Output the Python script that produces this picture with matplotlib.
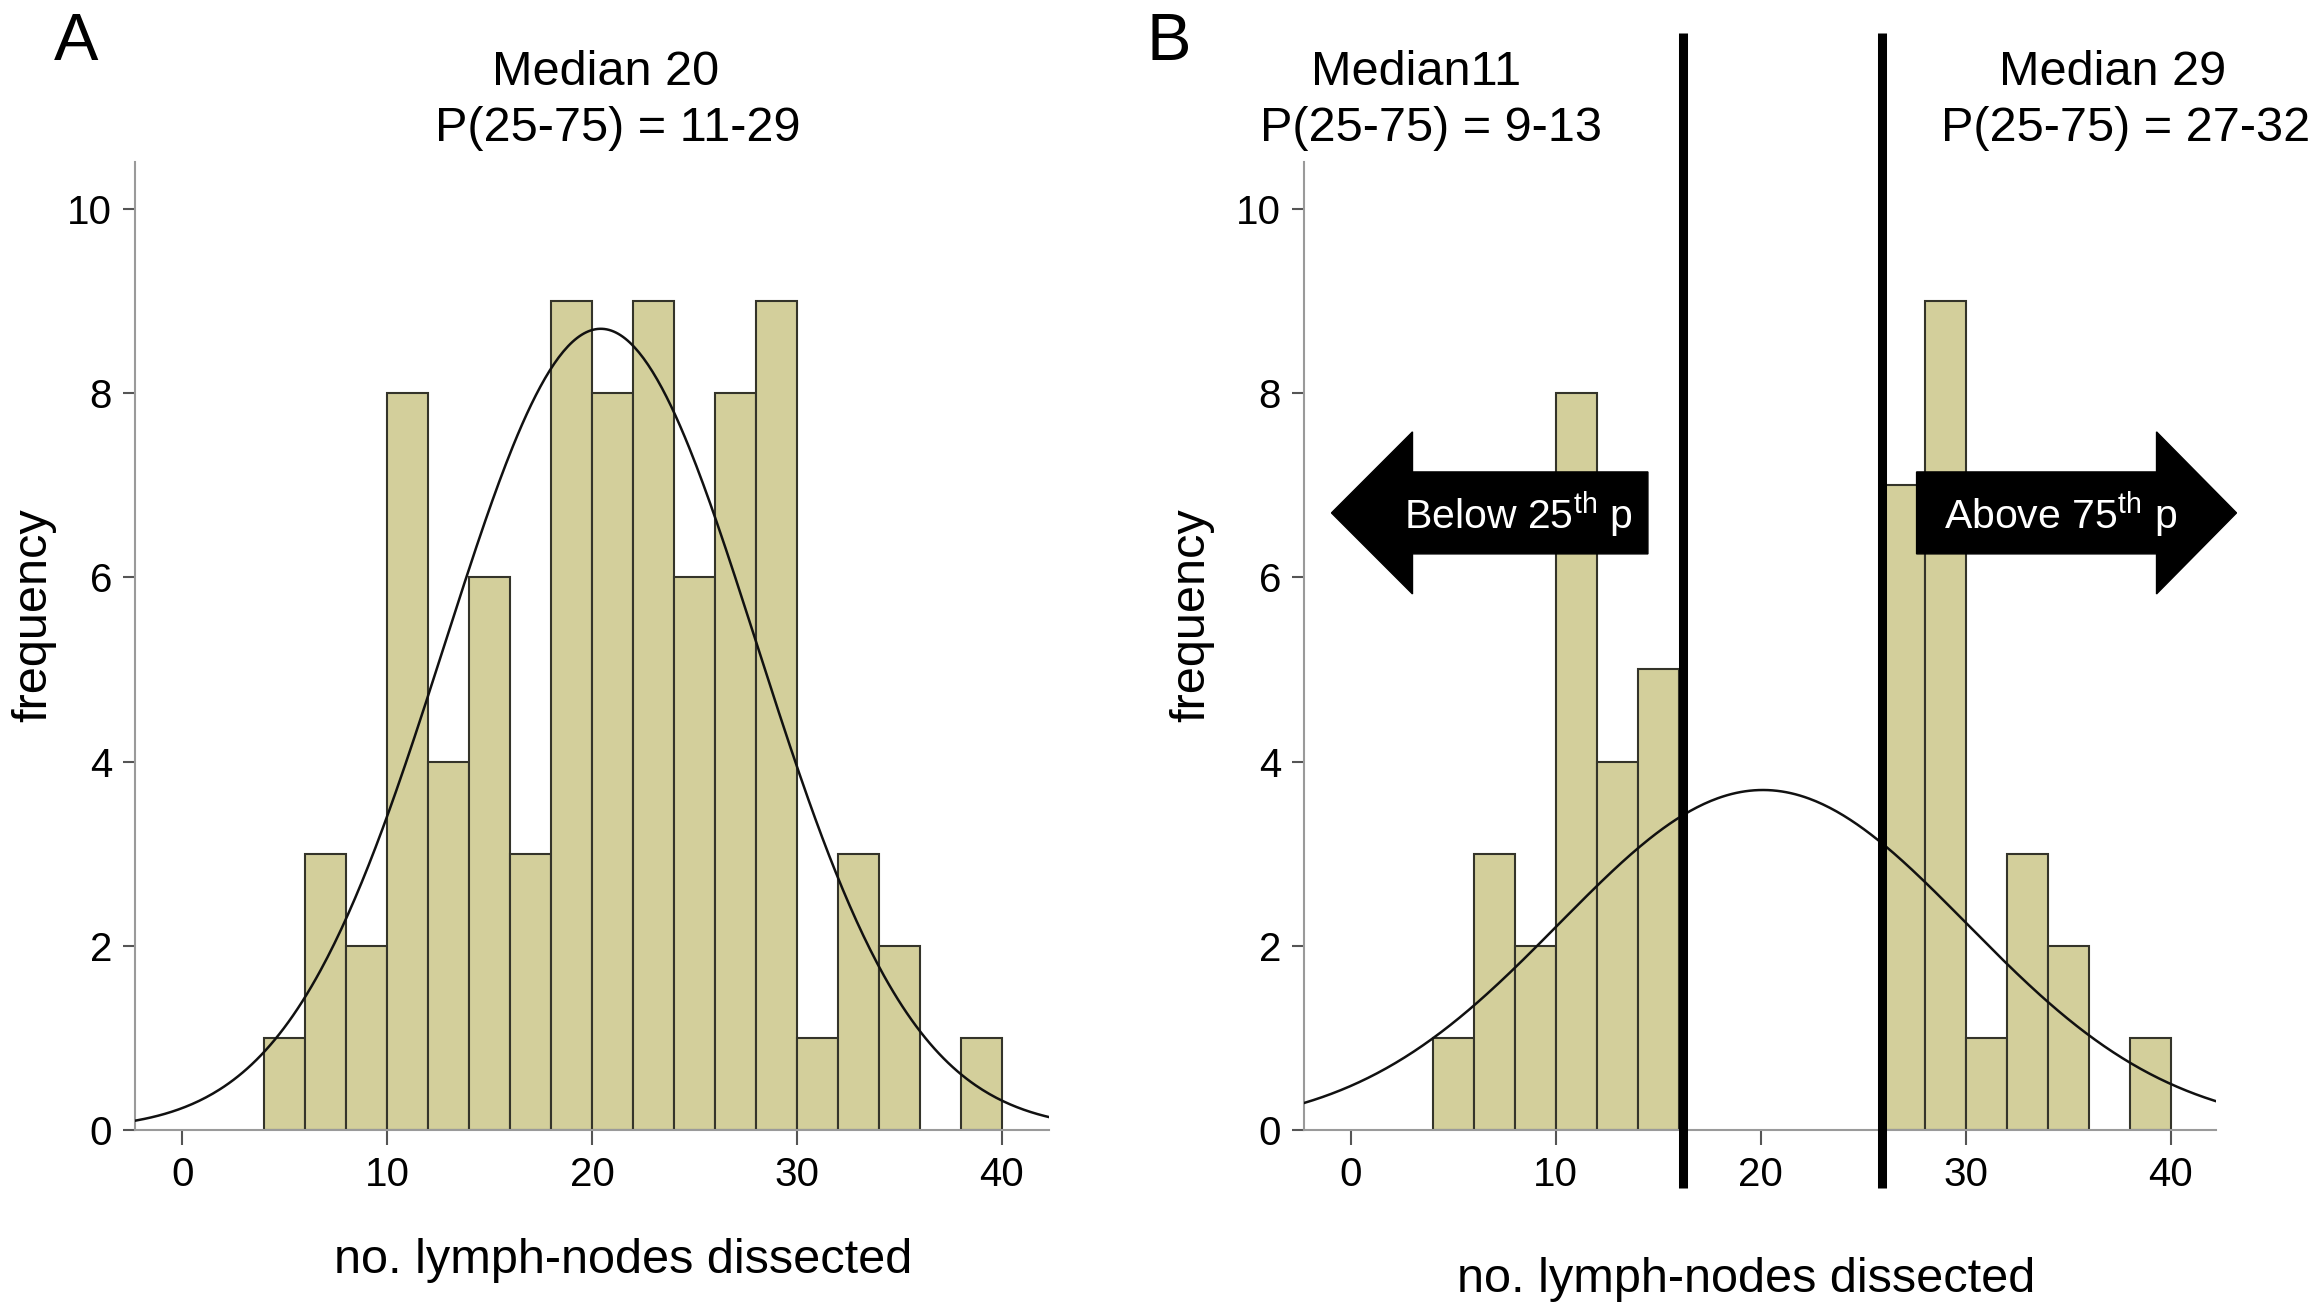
import numpy as np
import matplotlib
matplotlib.use("Agg")
import matplotlib.pyplot as plt
from matplotlib.patches import FancyArrow

plt.rcParams["font.family"] = ["Liberation Sans", "DejaVu Sans"]
plt.rcParams["mathtext.fontset"] = "custom"
plt.rcParams["mathtext.rm"] = "Liberation Sans"

# ------------------------------------------------------------------
# Data: histogram bins (width 2) of lymph nodes dissected
# ------------------------------------------------------------------
bin_left = [4, 6, 8, 10, 12, 14, 16, 18, 20, 22, 24, 26, 28, 30, 32, 34, 36, 38]
counts_all = [1, 3, 2, 8, 4, 6, 3, 9, 8, 9, 6, 8, 9, 1, 3, 2, 0, 1]
counts_tails = [1, 3, 2, 8, 4, 5, 0, 0, 0, 0, 0, 7, 9, 1, 3, 2, 0, 1]
bin_width = 2

x_ticks = [0, 10, 20, 30, 40]
y_ticks = [0, 2, 4, 6, 8, 10]

cut_low, cut_high = 16.2, 25.9

title_a = ["Median 20", "P(25-75) = 11-29"]
title_b_low = ["Median11", "P(25-75) = 9-13"]
title_b_high = ["Median 29", "P(25-75) = 27-32"]

BAR_COLOR = "#d3cf9b"
BAR_EDGE = "#34342a"
SPINE = "#9a9a9a"
TICK = "#555555"

W, H = 2310, 1315


def normal_fit(counts):
    # integer data: bin [2k, 2k+2) holds values 2k and 2k+1
    c = np.array(counts, dtype=float)
    mids = np.array(bin_left) + 0.5
    n = c.sum()
    mean = (c * mids).sum() / n
    var = ((c * (mids - mean) ** 2).sum() + 0.25 * n) / (n - 1)
    return n, mean, np.sqrt(var)


def draw_panel(ax, counts, xlim, ylabel_x):
    keep = [i for i, v in enumerate(counts) if v > 0]
    ax.bar([bin_left[i] for i in keep], [counts[i] for i in keep], width=bin_width,
           align="edge", color=BAR_COLOR, edgecolor=BAR_EDGE, linewidth=1.5, zorder=2)
    n, mean, sd = normal_fit(counts)
    xs = np.linspace(xlim[0], xlim[1], 400)
    ys = n * bin_width / (sd * np.sqrt(2 * np.pi)) * np.exp(-0.5 * ((xs - mean) / sd) ** 2)
    ax.plot(xs, ys, color="#111111", linewidth=1.8, zorder=3)

    ax.set_xlim(*xlim)
    ax.set_ylim(0, 10.51)
    ax.set_xticks(x_ticks)
    ax.set_yticks(y_ticks)
    for s in ("top", "right"):
        ax.spines[s].set_visible(False)
    for s in ("left", "bottom"):
        ax.spines[s].set_color(SPINE)
        ax.spines[s].set_linewidth(1.5)
    ax.tick_params(axis="y", length=8.6, width=1.5, color=TICK, labelsize=29, pad=8)
    ax.tick_params(axis="x", length=10.8, width=1.5, color=TICK, labelsize=29, pad=8)
    ax.set_ylabel("frequency", fontsize=35)
    ax.yaxis.set_label_coords(ylabel_x, 0.532)


fig = plt.figure(figsize=(W / 100, H / 100), dpi=100)
ax_a = fig.add_axes([135 / W, 1 - 1130 / H, 914 / W, 968 / H])
ax_b = fig.add_axes([1304 / W, 1 - 1130 / H, 912 / W, 968 / H])

draw_panel(ax_a, counts_all, (-2.3, 42.3), -0.086)
draw_panel(ax_b, counts_tails, (-2.27, 42.2), -0.098)

ax_a.set_xlabel("no. lymph-nodes dissected", fontsize=35)
ax_a.xaxis.set_label_coords(0.534, -0.112)
ax_b.set_xlabel("no. lymph-nodes dissected", fontsize=35)
ax_b.xaxis.set_label_coords(0.485, -0.131)

# percentile cut lines in panel B
for xc in (cut_low, cut_high):
    ax_b.plot([xc, xc], [-0.63, 11.91], color="black", linewidth=6.5,
              solid_capstyle="butt", clip_on=False, zorder=4)

# arrows
arrow_kw = dict(width=0.89, head_width=1.76, length_includes_head=True,
                color="black", clip_on=False, zorder=5)
ax_b.add_patch(FancyArrow(14.5, 6.7, -15.43, 0, head_length=3.95, **arrow_kw))
ax_b.add_patch(FancyArrow(27.6, 6.7, 15.6, 0, head_length=3.9, **arrow_kw))
ax_b.text(8.2, 6.68, r"Below 25$^{\mathrm{th}}$ p", color="white", fontsize=29.5,
          ha="center", va="center", zorder=6)
ax_b.text(34.6, 6.68, r"Above 75$^{\mathrm{th}}$ p", color="white", fontsize=29.5,
          ha="center", va="center", zorder=6, clip_on=False)


def title_lines(lines, x_centres):
    for line, xc, yb in zip(lines, x_centres, (85, 141)):
        fig.text(xc / W, 1 - yb / H, line, fontsize=35, ha="center", va="baseline")


title_lines(title_a, (606, 618))
title_lines(title_b_low, (1416, 1431))
title_lines(title_b_high, (2113, 2126))

fig.text(54 / W, 1 - 60 / H, "A", fontsize=48, ha="left", va="baseline")
fig.text(1147 / W, 1 - 60 / H, "B", fontsize=48, ha="left", va="baseline")

fig.savefig("out.png", dpi=100, facecolor="white")
